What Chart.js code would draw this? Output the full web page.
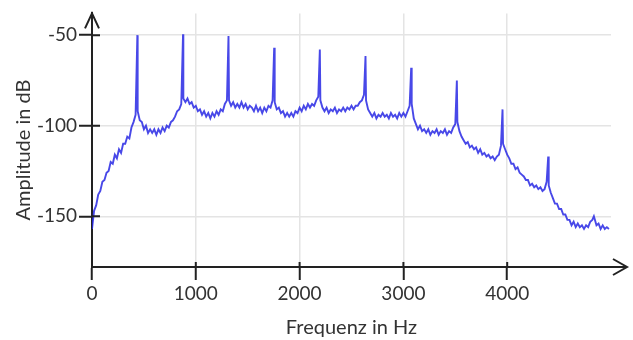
<!DOCTYPE html>
<html>
<head>
<meta charset="utf-8">
<script src="https://cdn.jsdelivr.net/npm/chart.js@4/dist/chart.umd.min.js"></script>
<style>
  body { margin: 0; background: #fff; }
  #wrap { width: 633px; height: 340px; }
</style>
</head>
<body>
<div id="wrap"><canvas id="myChart" width="633" height="340"></canvas></div>
<script>
// noise floor, one value every 20 Hz from 0 to 4980 Hz
var floorStepHz = 20;
var floorDb = [
  -157, -147, -144, -138, -136, -131, -130, -126, -125, -120,
  -121, -116, -118, -113, -115, -110, -110, -106, -107, -101,
  -98, -94, -92, -97, -98, -102, -100, -104, -102, -104,
  -102, -105, -102, -104, -101, -103, -100, -101, -98, -97,
  -95, -92, -91, -88, -85, -87, -85, -88, -87, -90,
  -89, -92, -91, -94, -92, -95, -93, -96, -93, -95,
  -92, -94, -91, -92, -88, -86, -86, -89, -87, -90,
  -88, -90, -87, -90, -88, -91, -89, -90, -92, -89,
  -92, -90, -93, -90, -92, -89, -90, -86, -87, -91,
  -90, -93, -92, -95, -93, -95, -93, -95, -92, -93,
  -90, -92, -89, -91, -88, -90, -88, -89, -86, -84,
  -86, -90, -92, -90, -93, -91, -92, -90, -93, -91,
  -92, -90, -92, -90, -91, -89, -91, -89, -89, -87,
  -86, -83, -86, -91, -93, -95, -93, -96, -94, -95,
  -93, -95, -94, -96, -93, -95, -94, -96, -93, -95,
  -93, -95, -92, -89, -88, -96, -99, -102, -100, -103,
  -102, -104, -102, -105, -103, -104, -102, -105, -103, -104,
  -102, -105, -103, -104, -101, -99, -98, -103, -106, -108,
  -110, -109, -112, -111, -113, -112, -115, -113, -116, -115,
  -117, -116, -118, -117, -119, -117, -116, -111, -110, -113,
  -116, -118, -121, -121, -124, -123, -126, -127, -128, -130,
  -130, -133, -132, -134, -133, -135, -134, -136, -135, -131,
  -133, -137, -140, -143, -143, -146, -146, -149, -149, -152,
  -152, -155, -153, -156, -154, -156, -155, -157, -155, -156,
  -153, -152, -151, -155, -154, -157, -155, -157, -156, -157
];
// harmonic peaks
var peakHz = [437, 877, 1315, 1755, 2195, 2635, 3075, 3515, 3955, 4395, 4835];
var peakDb = [-50, -49.5, -50.5, -57, -58, -61.5, -68, -75, -91, -117, -150];

var xTicks = [0, 1000, 2000, 3000, 4000];
var yTicks = [-150, -100, -50];

var axisColor = '#222';
var textColor = '#333';
var fontFamily = 'Lato, "Open Sans", sans-serif';

var points = [];
for (var i = 0; i < floorDb.length; i++) {
  points.push({ x: i * floorStepHz, y: floorDb[i] });
}
for (var j = 0; j < peakHz.length; j++) {
  points.push({ x: peakHz[j], y: peakDb[j] });
}
points.sort(function (a, b) { return a.x - b.x; });

// arrows, inner halves of ticks, y title
var axisDeco = {
  id: 'axisDeco',
  afterDraw: function (chart) {
    var ctx = chart.ctx;
    var a = chart.chartArea;
    var xs = chart.scales.x, ys = chart.scales.y;
    ctx.save();
    ctx.strokeStyle = axisColor;
    ctx.lineWidth = 2;
    ctx.beginPath();
    // x axis extension + arrow
    ctx.moveTo(a.right, a.bottom);
    ctx.lineTo(627, a.bottom);
    ctx.moveTo(613, a.bottom - 8);
    ctx.lineTo(627, a.bottom);
    ctx.lineTo(613, a.bottom + 8);
    // y arrow
    ctx.moveTo(a.left - 7, a.top + 15);
    ctx.lineTo(a.left, a.top);
    ctx.lineTo(a.left + 7, a.top + 15);
    ctx.stroke();
    ctx.beginPath();
    xTicks.forEach(function (v) {
      var px = xs.getPixelForValue(v);
      ctx.moveTo(px, a.bottom);
      ctx.lineTo(px, a.bottom - 5);
    });
    yTicks.forEach(function (v) {
      var py = ys.getPixelForValue(v);
      ctx.moveTo(a.left, py);
      ctx.lineTo(a.left + 8, py);
    });
    ctx.stroke();
    // y title
    ctx.fillStyle = textColor;
    ctx.font = '20px ' + fontFamily;
    ctx.textAlign = 'center';
    ctx.textBaseline = 'middle';
    ctx.translate(24, 150);
    ctx.rotate(-Math.PI / 2);
    ctx.fillText('Amplitude in dB', 0, 0);
    ctx.restore();
  }
};

var ctx = document.getElementById('myChart').getContext('2d');
var spectrum = new Chart(ctx, {
  type: 'line',
  data: {
    datasets: [{
      label: 'Spektrum',
      data: points,
      borderColor: 'rgba(40, 40, 228, 0.85)',
      borderWidth: 1.9,
      pointRadius: 0,
      tension: 0
    }]
  },
  options: {
    responsive: false,
    animation: false,
    layout: { padding: { top: 10, right: 22, left: 0, bottom: 0 } },
    plugins: { legend: { display: false }, tooltip: { enabled: false } },
    scales: {
      x: {
        type: 'linear',
        min: 0,
        max: 5000,
        afterBuildTicks: function (s) { s.ticks = xTicks.map(function (v) { return { value: v }; }); },
        afterFit: function (s) { s.height = 73; },
        grid: { color: '#e4e4e4', lineWidth: 1.5, tickColor: axisColor, tickLength: 13, tickWidth: 2 },
        border: { color: axisColor, width: 2 },
        ticks: { color: textColor, font: { family: fontFamily, size: 19 }, padding: 2, maxRotation: 0,
                 callback: function (v) { return String(v); } },
        title: { display: true, text: 'Frequenz in Hz', color: textColor, font: { family: fontFamily, size: 20 }, padding: { top: 0, bottom: 0 } }
      },
      y: {
        min: -178,
        max: -38,
        afterBuildTicks: function (s) { s.ticks = yTicks.map(function (v) { return { value: v }; }); },
        afterFit: function (s) { s.width = 92; },
        grid: { color: '#e4e4e4', lineWidth: 1.5, tickColor: axisColor, tickLength: 13, tickWidth: 2 },
        border: { color: axisColor, width: 2 },
        ticks: { color: textColor, font: { family: fontFamily, size: 19 }, padding: 2,
                 callback: function (v) { return String(v); } }
      }
    }
  },
  plugins: [axisDeco]
});
</script>
</body>
</html>
